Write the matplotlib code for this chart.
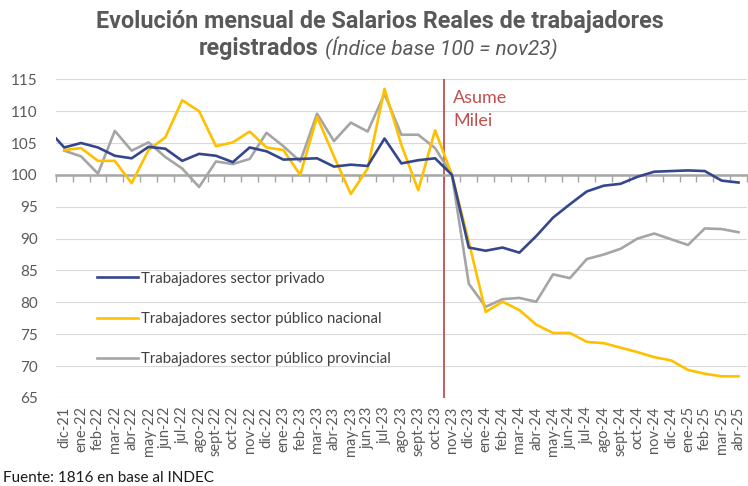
import numpy as np
import matplotlib
matplotlib.use("Agg")
import matplotlib.pyplot as plt

meses = ["dic-21",
         "ene-22", "feb-22", "mar-22", "abr-22", "may-22", "jun-22",
         "jul-22", "ago-22", "sept-22", "oct-22", "nov-22", "dic-22",
         "ene-23", "feb-23", "mar-23", "abr-23", "may-23", "jun-23",
         "jul-23", "ago-23", "sept-23", "oct-23", "nov-23", "dic-23",
         "ene-24", "feb-24", "mar-24", "abr-24", "may-24", "jun-24",
         "jul-24", "ago-24", "sept-24", "oct-24", "nov-24", "dic-24",
         "ene-25", "feb-25", "mar-25", "abr-25"]

# privado trae un dato previo (nov-21) que queda cortado en el borde
privado = [107.2,
           104.3, 105.0, 104.3, 103.0, 102.6, 104.4, 104.1, 102.2, 103.3,
           103.0, 102.0, 104.3, 103.7, 102.4, 102.5, 102.6, 101.3, 101.6,
           101.4, 105.7, 101.8, 102.3, 102.6, 100.0, 88.6, 88.1, 88.6,
           87.8, 90.4, 93.3, 95.4, 97.4, 98.3, 98.6, 99.7, 100.5, 100.6,
           100.7, 100.6, 99.1, 98.8]
nacional = [103.9, 104.2, 102.2, 102.2, 98.7, 103.9, 105.9, 111.7, 110.0,
            104.5, 105.1, 106.8, 104.3, 103.9, 100.0, 109.1, 102.9, 97.0,
            101.0, 113.5, 104.7, 97.6, 107.0, 100.0, 89.5, 78.5, 80.1,
            78.8, 76.5, 75.2, 75.2, 73.8, 73.6, 72.9, 72.2, 71.4, 70.9,
            69.4, 68.8, 68.4, 68.4]
provincial = [103.8, 102.9, 100.2, 106.9, 103.8, 105.1, 102.8, 101.0, 98.1,
              102.1, 101.7, 102.5, 106.6, 104.5, 102.1, 109.6, 105.3, 108.2,
              106.8, 112.7, 106.3, 106.3, 104.2, 100.0, 82.9, 79.3, 80.5,
              80.7, 80.1, 84.4, 83.8, 86.8, 87.5, 88.4, 90.0, 90.8, 89.9,
              89.0, 91.6, 91.5, 91.0]

gris_txt = "#595959"
plt.rcParams["font.family"] = ["Lato", "DejaVu Sans"]

fig = plt.figure(figsize=(7.48, 4.86), dpi=100)
ax = fig.add_axes([0.0746, 0.1811, 0.9240, 0.6558])

x = np.arange(len(meses))
x_priv = np.arange(-1, len(meses))

ax.plot(x_priv, privado, color="#34468c", lw=1.9, label="Trabajadores sector privado", zorder=4)
ax.plot(x, nacional, color="#ffc000", lw=1.9, label="Trabajadores sector público nacional", zorder=3)
ax.plot(x, provincial, color="#a5a5a5", lw=1.9, label="Trabajadores sector público provincial", zorder=2)

# asume Milei entre oct-23 y nov-23
i_nov23 = meses.index("nov-23")
ax.axvline(i_nov23 - 0.5, color="#c0504d", lw=1.3, zorder=1)
ax.annotate("Asume\nMilei", xy=(i_nov23 - 0.5, 115), xytext=(7, -8),
            textcoords="offset points", va="top", ha="left",
            color="#c0504d", fontsize=13, linespacing=1.5)

ax.set_xlim(-0.5, len(meses) - 0.5)
ax.set_ylim(65, 115)
ax.set_yticks(np.arange(65, 116, 5))
ax.yaxis.grid(True, color="#d9d9d9", lw=0.8)
ax.set_axisbelow(True)
ax.tick_params(axis="y", length=0, pad=13, labelsize=11, labelcolor=gris_txt)

for s in ["top", "right", "left"]:
    ax.spines[s].set_visible(False)
# eje horizontal cruza en 100
ax.spines["bottom"].set_position(("data", 100))
ax.spines["bottom"].set_color("#a6a6a6")
ax.spines["bottom"].set_linewidth(1.8)
ax.spines["bottom"].set_zorder(1.5)
ax.set_xticks(x)
ax.set_xticks(np.arange(-0.5, len(meses)), minor=True)
ax.tick_params(axis="x", which="major", length=0, labelbottom=False)
ax.tick_params(axis="x", which="minor", length=5, width=1, color="#a6a6a6", direction="out")

sec = ax.secondary_xaxis(0)
sec.set_xticks(x, meses, rotation=90)
sec.tick_params(length=0, pad=6, labelsize=10.5, labelcolor=gris_txt)
sec.spines["bottom"].set_visible(False)

ax.legend(loc="center left", bbox_to_anchor=(0.13, 0.344), bbox_transform=fig.transFigure,
          frameon=False, fontsize=10.8, handlelength=2.7, handletextpad=0.25,
          labelspacing=1.75, borderpad=0, borderaxespad=0, labelcolor="#404040")

fig.text(0.508, 0.955, "Evolución mensual de Salarios Reales de trabajadores",
         ha="center", va="center", fontsize=16.8, fontweight="bold",
         color=gris_txt, family="Roboto")
fig.text(0.426, 0.9, "registrados", ha="right", va="center", fontsize=16.8,
         fontweight="bold", color=gris_txt, family="Roboto")
fig.text(0.434, 0.9, "(Índice base 100 = nov23)", ha="left", va="center",
         fontsize=15, style="italic", color=gris_txt, family="Roboto")

fig.text(0.004, 0.017, "Fuente: 1816 en base al INDEC", ha="left", va="center",
         fontsize=11, color="#1a1a1a")

fig.savefig("out.png", dpi=100)
